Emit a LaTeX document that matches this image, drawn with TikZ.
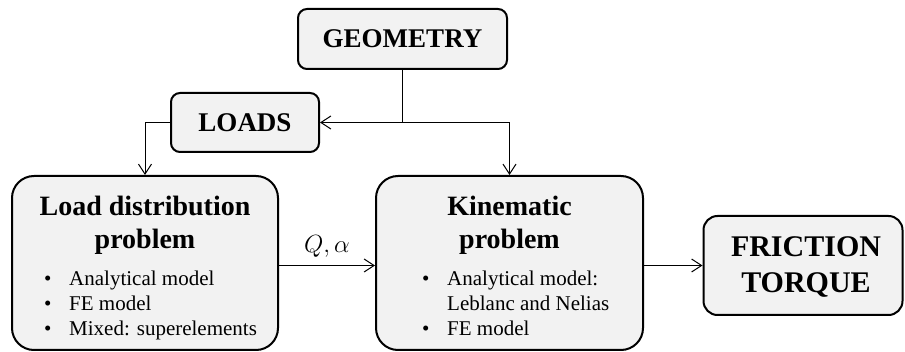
\documentclass[tikz,border=0pt]{standalone}
\usepackage{fontspec}
\setmainfont{Liberation Serif}
\usetikzlibrary{arrows.meta}

\tikzset{
  box/.style={draw=black, fill=black!5, line width=2pt, inner sep=0pt},
  conn/.style={line width=1pt},
  arr/.style={conn, -{Straight Barb[length=10pt,width=13pt,line width=1pt]}},
  title/.style={anchor=base, inner sep=0pt, font=\fontsize{28}{33}\selectfont\bfseries},
  item/.style={anchor=base west, inner sep=0pt, font=\fontsize{21}{25}\selectfont},
}
\newcommand{\bul}{\makebox[25pt][l]{\textbullet}}

\begin{document}
\begin{tikzpicture}[x=1pt,y=-1pt]
  \useasboundingbox (0,0) rectangle (905,352);

  % boxes
  \node[box, rounded corners=9pt, minimum width=209pt, minimum height=60pt] (geo) at (402.5,39) {};
  \node[box, rounded corners=9pt, minimum width=148pt, minimum height=59pt] (loads) at (245,122.5) {};
  \node[box, rounded corners=22pt, minimum width=266pt, minimum height=174pt] (ld) at (145,263) {};
  \node[box, rounded corners=22pt, minimum width=267pt, minimum height=174pt] (kin) at (509.5,263) {};
  \node[box, rounded corners=14pt, minimum width=199pt, minimum height=99pt] (fr) at (803,265.5) {};

  % box labels
  \node[font=\fontsize{27}{32}\selectfont\bfseries, inner sep=0pt] (geot) at (geo) {GEOMETRY};
  \node[font=\fontsize{27}{32}\selectfont\bfseries, inner sep=0pt] (loadst) at (loads) {LOADS};
  \node[font=\fontsize{30}{36}\selectfont\bfseries, align=center, inner sep=0pt] (frt) at (806,267) {FRICTION\\TORQUE};

  \node[title] (ldt1) at (145,216) {Load distribution};
  \node[title] (ldt2) at (145,249) {problem};
  \node[item] (ldi1) at (44,286) {\bul Analytical model};
  \node[item] (ldi2) at (44,311) {\bul FE model};
  \node[item] (ldi3) at (44,336) {\bul Mixed: superelements};

  \node[title] (kint1) at (509.5,216) {Kinematic};
  \node[title] (kint2) at (509.5,249) {problem};
  \node[item] (kini1) at (422,286) {\bul Analytical model:};
  \node[item] (kini2) at (447,311) {Leblanc and Nelias};
  \node[item] (kini3) at (422,336) {\bul FE model};

  % connectors
  \coordinate (split) at (geo.south |- loads.east);
  \draw[conn] (geo.south) -- (split);
  \draw[arr] (split) -- (loads.east);
  \draw[arr] (split) -| (kin.north);
  \draw[arr] (loads.west) -| (ld.north);
  \draw[arr] (ld.east |- fr.west) -- node[above=4pt, font=\fontsize{23}{27}\selectfont] (qa) {$Q,\alpha$} (kin.west |- fr.west);
  \draw[arr] (kin.east |- fr.west) -- (fr.west);
\end{tikzpicture}
\end{document}
